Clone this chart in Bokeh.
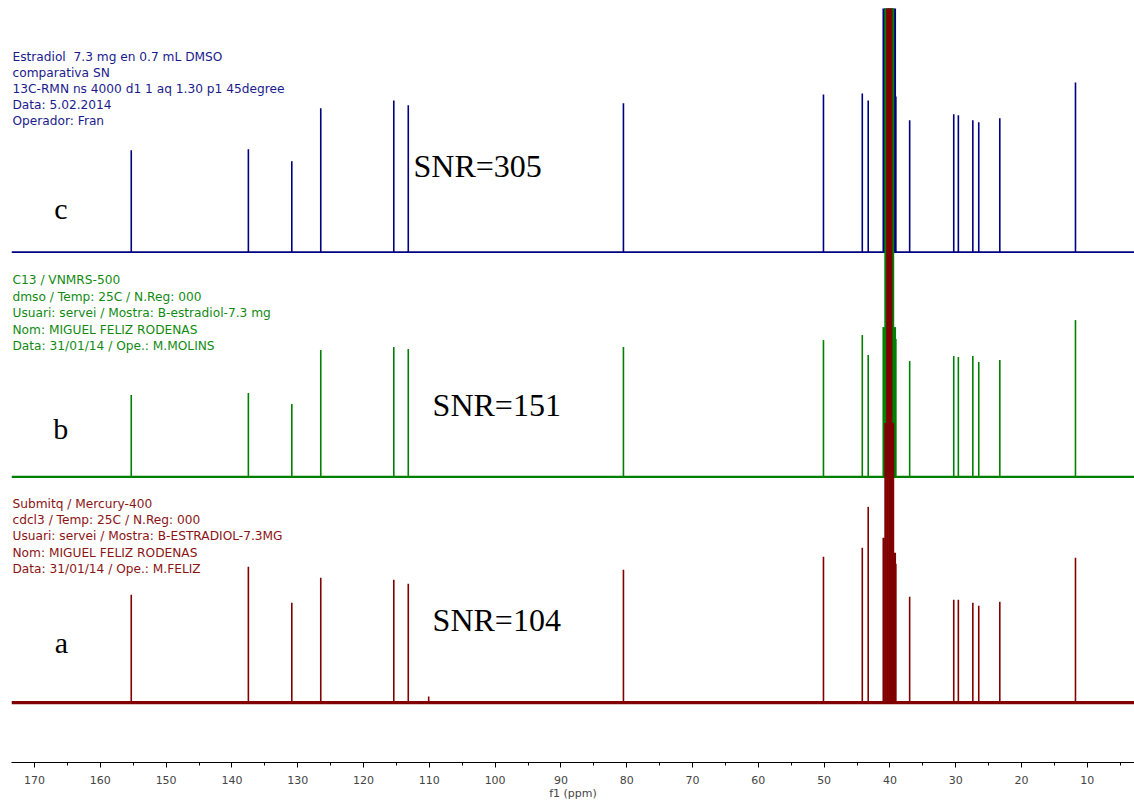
from bokeh.plotting import figure
from bokeh.models import Range1d, FixedTicker
from bokeh.core.properties import value
from bokeh.embed import file_html
from bokeh.resources import INLINE

# ---- data (ppm, intensities in display units) ----
shifts = [155.3, 137.5, 130.9, 126.5, 115.4, 113.2, 80.5, 50.1, 44.2, 43.3,
          39.1, 37.0, 30.3, 29.6, 27.4, 26.5, 23.3, 11.8]
c_heights = [102, 103, 91, 144, 152, 147, 149, 158, 159, 152,
             156, 132, 138, 137, 132, 130, 134, 170]
b_heights = [82, 84, 73, 127, 130, 128, 130, 137, 142, 122,
             138, 116, 121, 120, 121, 115, 117, 157]
a_heights = [108, 136, 100, 125, 123, 119, 133, 146, 155, 196,
             139, 106, 103, 103, 100, 97, 101, 145]
solvent_shifts = [40.95, 40.67, 40.39, 40.10, 39.81, 39.53, 39.25]
c_solvent = [300, 1000, 1000, 1000, 1000, 1000, 300]
b_solvent = [150, 500, 1000, 1000, 1000, 500, 150]
a_solvent = [165, 280, 1000, 1000, 1000, 280, 150]
a_extra_shifts = [110.1]
a_extra = [6]
offsets = {"c": 511, "b": 286, "a": 60}
colors = {"c": "#000080", "b": "#008000", "a": "#800000"}
text_colors = {"c": "#1a1a8c", "b": "#128a12", "a": "#8a1414"}

headers = {
    "c": ["Estradiol\u00a0 7.3 mg en 0.7 mL DMSO", "comparativa SN",
          "13C-RMN ns 4000 d1 1 aq 1.30 p1 45degree", "Data: 5.02.2014",
          "Operador: Fran"],
    "b": ["C13 / VNMRS-500", "dmso / Temp: 25C / N.Reg: 000",
          "Usuari: servei / Mostra: B-estradiol-7.3 mg",
          "Nom: MIGUEL FELIZ RODENAS", "Data: 31/01/14 / Ope.: M.MOLINS"],
    "a": ["Submitq / Mercury-400", "cdcl3 / Temp: 25C / N.Reg: 000",
          "Usuari: servei / Mostra: B-ESTRADIOL-7.3MG",
          "Nom: MIGUEL FELIZ RODENAS", "Data: 31/01/14 / Ope.: M.FELIZ"],
}
header_top = {"c": 706, "b": 483, "a": 259}
header_step = {"c": 16, "b": 16.5, "a": 16.3}
snr_labels = {"c": "SNR=305", "b": "SNR=151", "a": "SNR=104"}
snr_pos = {"c": (112.4, 597), "b": (109.5, 358), "a": (109.5, 143)}
letter_pos = {"c": (166.0, 555), "b": (166.0, 334), "a": (165.9, 120)}

X0, X1 = 173.5, 2.83

p = figure(width=1134, height=802, output_backend="svg", toolbar_location=None,
           x_range=Range1d(X0, X1), y_range=Range1d(0, 755),
           min_border_left=11, min_border_right=0, min_border_top=8)
p.outline_line_color = None
p.xgrid.visible = False
p.ygrid.visible = False
p.yaxis.visible = False
p.background_fill_color = "white"

ax = p.xaxis[0]
ax.ticker = FixedTicker(ticks=list(range(10, 180, 10)),
                        minor_ticks=list(range(5, 180, 5)))
ax.axis_label = "f1 (ppm)"
ax.axis_label_text_font = "DejaVu Sans"
ax.axis_label_text_font_size = "11px"
ax.axis_label_text_font_style = "normal"
ax.axis_label_standoff = 0
ax.major_label_text_font = "DejaVu Sans"
ax.major_label_text_font_size = "11px"
ax.major_label_standoff = 8
ax.major_tick_in = 0
ax.major_tick_out = 5
ax.minor_tick_in = 0
ax.minor_tick_out = 3
ax.axis_line_color = "black"

base_width = {"c": 1.8, "b": 2.4, "a": 3.2}

for key, hs in (("c", c_heights), ("b", b_heights), ("a", a_heights)):
    off = offsets[key]
    col = colors[key]
    sol = {"c": c_solvent, "b": b_solvent, "a": a_solvent}[key]
    xs = shifts + (a_extra_shifts if key == "a" else [])
    ys = hs + (a_extra if key == "a" else [])
    p.line([X0, X1], [off, off], line_color=col, line_width=base_width[key])
    p.segment(x0=xs, y0=[off] * len(xs), x1=xs, y1=[off + h for h in ys],
              line_color=col, line_width=1.6)
    p.segment(x0=solvent_shifts, y0=[off] * len(solvent_shifts),
              x1=solvent_shifts, y1=[off + h for h in sol],
              line_color=col, line_width=2.4)

for key in ("c", "b", "a"):
    lines = headers[key]
    ys = [header_top[key] - i * header_step[key] for i in range(len(lines))]
    p.text(x=[173.35] * len(lines), y=ys, text=lines,
           text_font=value("DejaVu Sans"), text_font_size="12.2px",
           text_color=text_colors[key], text_baseline="alphabetic",
           text_align="left")
    sx, sy = snr_pos[key]
    p.text(x=[sx], y=[sy], text=[snr_labels[key]],
           text_font=value("Liberation Serif"), text_font_size="32px",
           text_color="black", text_baseline="alphabetic", text_align="left")
    lx, ly = letter_pos[key]
    p.text(x=[lx], y=[ly], text=[key],
           text_font=value("Liberation Serif"), text_font_size="30px",
           text_color="black", text_baseline="alphabetic", text_align="center")

open("out.html", "w").write(file_html(p, INLINE))
